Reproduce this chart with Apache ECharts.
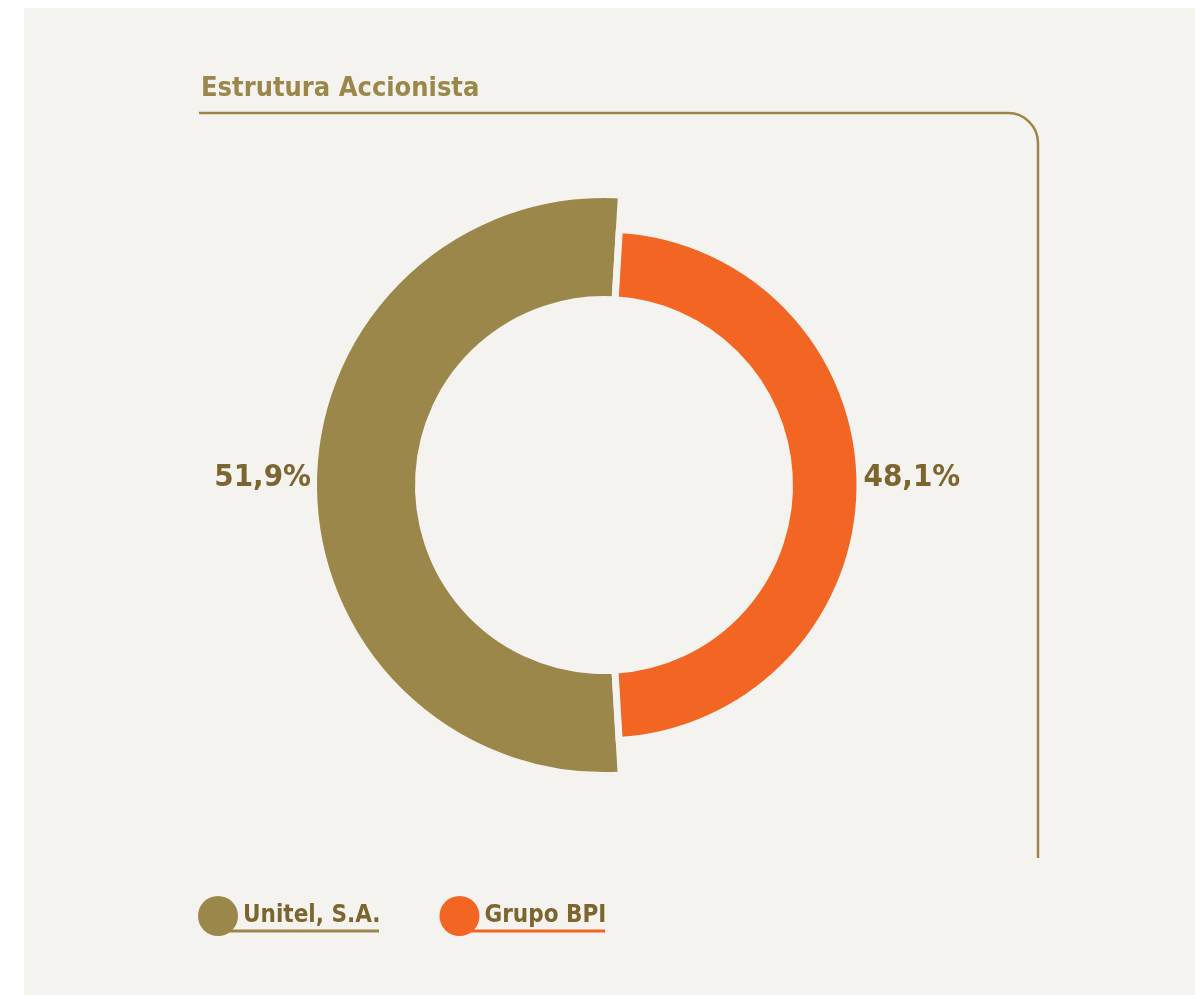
<!DOCTYPE html>
<html>
<head>
<meta charset="utf-8">
<script src="https://cdn.jsdelivr.net/npm/echarts@6/dist/echarts.min.js"></script>
<style>
	html, body { margin: 0; padding: 0; background: #ffffff; }
	#chart { width: 1195px; height: 995px; }
</style>
</head>
<body>
<div id="chart"></div>
<script>
	// shareholder structure
	var shareholders = [ "Unitel, S.A.", "Grupo BPI" ];
	var shares = [ 51.9, 48.1 ];
	var sliceColors = [ "#9b874a", "#f26522" ];

	var gold = "#9b8749";
	var darkGold = "#7d6530";
	var paper = "#f5f3ef";
	var font = "'Liberation Sans Narrow', 'DejaVu Sans Condensed', sans-serif";

	function percentLabel(params) {
		return String(params.value).replace(".", ",") + "%";
	}

	// one pie per holder: the other slice is kept but invisible, so angles match
	function buildPie(index, outerRadius, labelGap) {
		var data = [];
		for (var i = 0; i < shareholders.length; i++) {
			var entry = {
				name : shareholders[i],
				value : shares[i]
			};
			if (i === index) {
				entry.itemStyle = {
					color : sliceColors[i],
					borderColor : paper,
					borderWidth : 7
				};
			} else {
				entry.itemStyle = {
					color : "transparent"
				};
				entry.label = {
					show : false
				};
				entry.emphasis = {
					disabled : true
				};
			}
			data.push(entry);
		}
		return {
			type : "pie",
			center : [ 604, 485 ],
			radius : [ 185.5, 3.5 + outerRadius ],
			startAngle : -86.6,
			clockwise : true,
			avoidLabelOverlap : false,
			animation : false,
			label : {
				show : true,
				position : "outside",
				formatter : percentLabel,
				fontFamily : font,
				fontSize : 31,
				fontWeight : "bold",
				color : darkGold,
				distanceToLabelLine : labelGap
			},
			labelLayout : function() {
				return {
					dy : -7
				};
			},
			labelLine : {
				show : false,
				length : 0,
				length2 : 0
			},
			emphasis : {
				scale : false
			},
			data : data
		};
	}

	function frameLine(x1, y1, x2, y2) {
		return {
			type : "line",
			silent : true,
			shape : {
				x1 : x1,
				y1 : y1,
				x2 : x2,
				y2 : y2
			},
			style : {
				stroke : gold,
				lineWidth : 2.5
			}
		};
	}

	function underline(x1, x2, color) {
		return {
			type : "line",
			silent : true,
			z : -1,
			shape : {
				x1 : x1,
				y1 : 931,
				x2 : x2,
				y2 : 931
			},
			style : {
				stroke : color,
				lineWidth : 3
			}
		};
	}

	var chart = echarts.init(document.getElementById("chart"));
	chart.setOption({
		backgroundColor : "#ffffff",
		title : {
			text : "Estrutura Accionista",
			left : 196,
			top : 70,
			textStyle : {
				fontFamily : font,
				fontSize : 27,
				fontWeight : "bold",
				color : gold
			}
		},
		legend : {
			left : 193,
			top : 891,
			orient : "horizontal",
			icon : "circle",
			itemWidth : 40,
			itemHeight : 40,
			itemGap : 59,
			selectedMode : false,
			itemStyle : {
				borderWidth : 0
			},
			textStyle : {
				fontFamily : font,
				fontSize : 24,
				fontWeight : "bold",
				color : darkGold,
				padding : [ 0, 0, 0, 0 ]
			},
			data : [ {
				name : shareholders[0],
				itemStyle : {
					color : sliceColors[0],
					borderWidth : 0
				}
			}, {
				name : shareholders[1],
				itemStyle : {
					color : sliceColors[1],
					borderWidth : 0
				}
			} ]
		},
		graphic : [ {
			type : "rect",
			z : -10,
			silent : true,
			shape : {
				x : 24,
				y : 8,
				width : 1171,
				height : 987
			},
			style : {
				fill : paper
			}
		}, frameLine(199, 113, 1008, 113), {
			type : "arc",
			silent : true,
			shape : {
				cx : 1008,
				cy : 143,
				r : 30,
				startAngle : -Math.PI / 2,
				endAngle : 0,
				clockwise : true
			},
			style : {
				fill : null,
				stroke : gold,
				lineWidth : 2.5
			}
		}, frameLine(1038, 143, 1038, 858), underline(226, 379, sliceColors[0]), underline(468, 605, sliceColors[1]) ],
		series : [ buildPie(0, 287, 2.5), buildPie(1, 252.5, 3.5) ]
	});
</script>
</body>
</html>
